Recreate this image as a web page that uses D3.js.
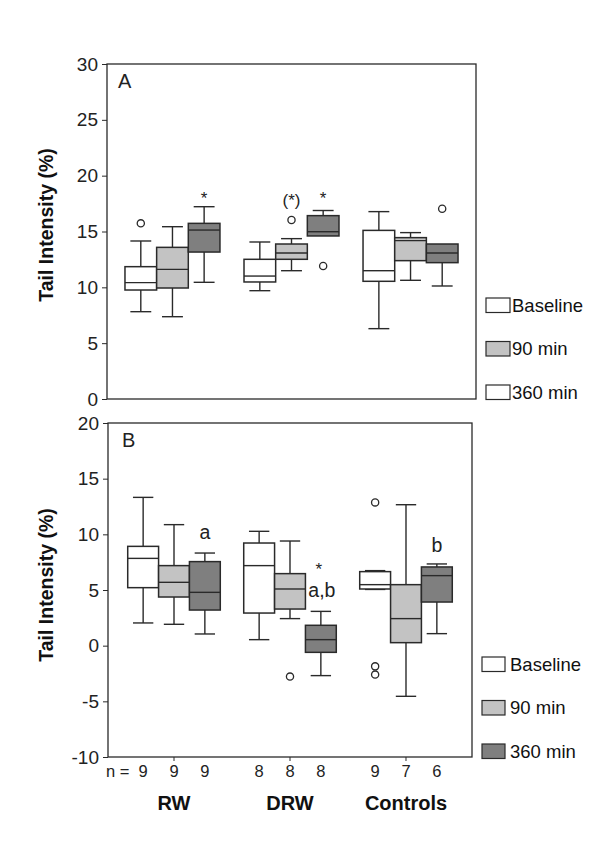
<!DOCTYPE html>
<html><head><meta charset="utf-8">
<script src="https://cdn.jsdelivr.net/npm/d3@7"></script>
<style>body{margin:0;background:#fff}svg{display:block;font-family:"Liberation Sans",Arial,sans-serif}</style>
</head><body><svg id="c" width="600" height="867"></svg>
<script>
// ---- data ----
const groups = ["RW", "DRW", "Controls"];
const series = ["Baseline", "90 min", "360 min"];
const nCounts = [9, 9, 9, 8, 8, 8, 9, 7, 6];
const ticksA = [0, 5, 10, 15, 20, 25, 30];
const ticksB = [-10, -5, 0, 5, 10, 15, 20];
// [whiskerLow, Q1, median, Q3, whiskerHigh] per box, order: group x series
const boxesA = [
  [7.82, 9.76, 10.42, 11.85, 14.15],
  [7.37, 9.94, 11.61, 13.58, 15.43],
  [10.45, 13.16, 15.13, 15.73, 17.22],
  [9.70, 10.48, 11.01, 12.51, 14.06],
  [11.49, 12.51, 13.07, 13.88, 14.36],
  [14.60, 14.60, 14.98, 16.42, 16.88],
  [6.30, 10.54, 11.49, 15.10, 16.78],
  [10.63, 12.39, 14.18, 14.45, 14.90],
  [10.12, 12.21, 13.07, 13.88, 13.88]
];
const outliersA = [[0, 15.73], [4, 16.03], [5, 11.91], [8, 17.04]];
// [box, text, value at vertical centre of the text]
const marksA = [[2, "*", 18.4], [4, "(*)", 17.7], [5, "*", 18.4]];
const boxesB = [
  [2.04, 5.21, 7.84, 8.92, 13.32],
  [1.92, 4.37, 5.69, 7.19, 10.87],
  [1.05, 3.20, 4.79, 7.55, 8.32],
  [0.54, 2.93, 7.19, 9.22, 10.27],
  [2.43, 3.29, 5.09, 6.47, 9.40],
  [-2.69, -0.60, 0.54, 1.83, 3.08],
  [5.05, 5.09, 5.48, 6.65, 6.74],
  [-4.55, 0.27, 2.43, 5.48, 12.66],
  [1.08, 3.92, 6.29, 7.07, 7.34]
];
const outliersB = [[4, -2.78], [6, 12.87], [6, -1.86], [6, -2.60]];
const marksB = [[2, "a", 10.15], [5, "*", 7.25], [5, "a,b", 4.88], [8, "b", 8.98]];
const fillsB = ["#ffffff", "#c3c3c3", "#7f7f7f"];
const legendFillsA = ["#ffffff", "#c3c3c3", "#ffffff"]; // as in the original figure

// ---- drawing ----
const svg = d3.select("#c");
const ink = "#2a2a2a";
const FONT = "Liberation Sans, Arial, sans-serif";

function panel(cfg) {
  const g = svg.append("g");
  const y = d3.scaleLinear().domain(cfg.domain).range([cfg.bottom, cfg.top]);
  const x = d3.scalePoint().domain(groups).range([cfg.left, cfg.right]).padding(cfg.pad);
  const bw = x.step() * 0.266;
  const cx = i => x(groups[Math.floor(i / 3)]) + (i % 3 - 1) * bw;

  // axis
  const ax = g.append("g").attr("transform", `translate(${cfg.left},0)`)
    .call(d3.axisLeft(y).tickValues(cfg.ticks).tickSize(5).tickPadding(4).tickFormat(d => String(d)));
  ax.attr("font-family", FONT);
  ax.select(".domain").remove();
  ax.selectAll("line").attr("stroke", ink).attr("stroke-width", 1);
  ax.selectAll("text").attr("font-size", 19).attr("fill", "#222");

  // frame
  g.append("rect").attr("x", cfg.left).attr("y", cfg.top)
    .attr("width", cfg.right - cfg.left).attr("height", cfg.bottom - cfg.top)
    .attr("fill", "none").attr("stroke", ink).attr("stroke-width", 1.3);

  // boxes
  const bx = g.selectAll("g.box").data(cfg.boxes).join("g").attr("class", "box");
  bx.each(function(d, i) {
    const s = d3.select(this), c = cx(i), cw = bw * 0.33;
    const ln = (x1, x2, y1, y2) => s.append("line").attr("x1", x1).attr("x2", x2).attr("y1", y1).attr("y2", y2)
      .attr("stroke", ink).attr("stroke-width", 1.4);
    if (d[4] > d[3] + 0.01) { ln(c, c, y(d[3]), y(d[4])); ln(c - cw, c + cw, y(d[4]), y(d[4])); }
    if (d[0] < d[1] - 0.01) { ln(c, c, y(d[1]), y(d[0])); ln(c - cw, c + cw, y(d[0]), y(d[0])); }
  });
  bx.append("rect").attr("x", (d, i) => cx(i) - bw / 2).attr("width", bw)
    .attr("y", d => y(d[3])).attr("height", d => y(d[1]) - y(d[3]))
    .attr("fill", (d, i) => fillsB[i % 3]).attr("stroke", ink).attr("stroke-width", 1.5);
  bx.append("line").attr("x1", (d, i) => cx(i) - bw / 2).attr("x2", (d, i) => cx(i) + bw / 2)
    .attr("y1", d => y(d[2])).attr("y2", d => y(d[2])).attr("stroke", ink).attr("stroke-width", 1.4);

  // outliers
  g.selectAll("circle.out").data(cfg.outliers).join("circle").attr("class", "out")
    .attr("cx", d => cx(d[0])).attr("cy", d => y(d[1])).attr("r", 3.6)
    .attr("fill", "#fff").attr("stroke", ink).attr("stroke-width", 1.3);

  // significance marks (value = vertical centre of the mark)
  const sizeOf = t => t.includes("*") ? 17 : 19.5;
  const centreDy = t => t === "*" ? 0.62 : t === "(*)" ? 0.28 : 0.3;
  g.selectAll("text.mark").data(cfg.marks).join("text").attr("class", "mark")
    .attr("x", d => cx(d[0]) + (d[1] === "a,b" ? 1 : 0) + (cfg.shiftStar && d[1] === "*" ? -2 : 0))
    .attr("y", d => y(d[2]) + centreDy(d[1]) * sizeOf(d[1]))
    .attr("text-anchor", "middle")
    .attr("font-size", d => sizeOf(d[1]))
    .attr("fill", "#222").text(d => d[1]);

  // panel letter
  g.append("text").attr("x", cfg.left + cfg.letterDx).attr("y", cfg.top + 24)
    .attr("font-size", 20).attr("fill", "#222").text(cfg.letter);

  // y title
  g.append("text").attr("transform", `translate(53,${cfg.titleY}) rotate(-90)`)
    .attr("text-anchor", "middle").attr("font-weight", "bold").attr("font-size", 19.5)
    .attr("fill", "#111").text("Tail Intensity (%)");

  // legend
  const lg = g.selectAll("g.leg").data(series).join("g").attr("class", "leg")
    .attr("transform", (d, i) => `translate(${cfg.legX},${cfg.legY + i * 43.5})`);
  lg.append("rect").attr("x", 0).attr("y", -7).attr("width", cfg.legW).attr("height", 14.5)
    .attr("fill", (d, i) => cfg.legFills[i]).attr("stroke", ink).attr("stroke-width", 1.2);
  lg.append("text").attr("x", cfg.legW + cfg.legGap).attr("y", 0).attr("dy", "0.36em")
    .attr("font-size", 18.5).attr("fill", "#111").text(d => d);

  return { x, y, cx, g };
}

panel({ domain: [0, 30], top: 64, bottom: 399, left: 107, right: 476, pad: 0.55, ticks: ticksA,
  boxes: boxesA, outliers: outliersA, marks: marksA, letter: "A", letterDx: 11, titleY: 225,
  legX: 486, legY: 305, legW: 24, legGap: 2, legFills: legendFillsA, shiftStar: false });

const pB = panel({ domain: [-10, 20], top: 423, bottom: 757, left: 108, right: 472, pad: 0.569, ticks: ticksB,
  boxes: boxesB, outliers: outliersB, marks: marksB, letter: "B", letterDx: 14, titleY: 585,
  legX: 482, legY: 664, legW: 23, legGap: 5, legFills: fillsB, shiftStar: true });

// x ticks under panel B
svg.selectAll("line.xt").data(groups).join("line").attr("class", "xt")
  .attr("x1", d => pB.x(d)).attr("x2", d => pB.x(d)).attr("y1", 757).attr("y2", 761)
  .attr("stroke", ink).attr("stroke-width", 1);

// n counts
svg.append("text").attr("x", 106).attr("y", 777).attr("font-size", 16.5).attr("fill", "#222").text("n =");
svg.selectAll("text.n").data(nCounts).join("text").attr("class", "n")
  .attr("x", (d, i) => pB.cx(i)).attr("y", 777).attr("text-anchor", "middle")
  .attr("font-size", 16.5).attr("fill", "#222").text(d => d);

// group labels
svg.selectAll("text.grp").data(groups).join("text").attr("class", "grp")
  .attr("x", d => pB.x(d)).attr("y", 810).attr("text-anchor", "middle")
  .attr("font-weight", "bold").attr("font-size", 20).attr("fill", "#111").text(d => d);
</script></body></html>
